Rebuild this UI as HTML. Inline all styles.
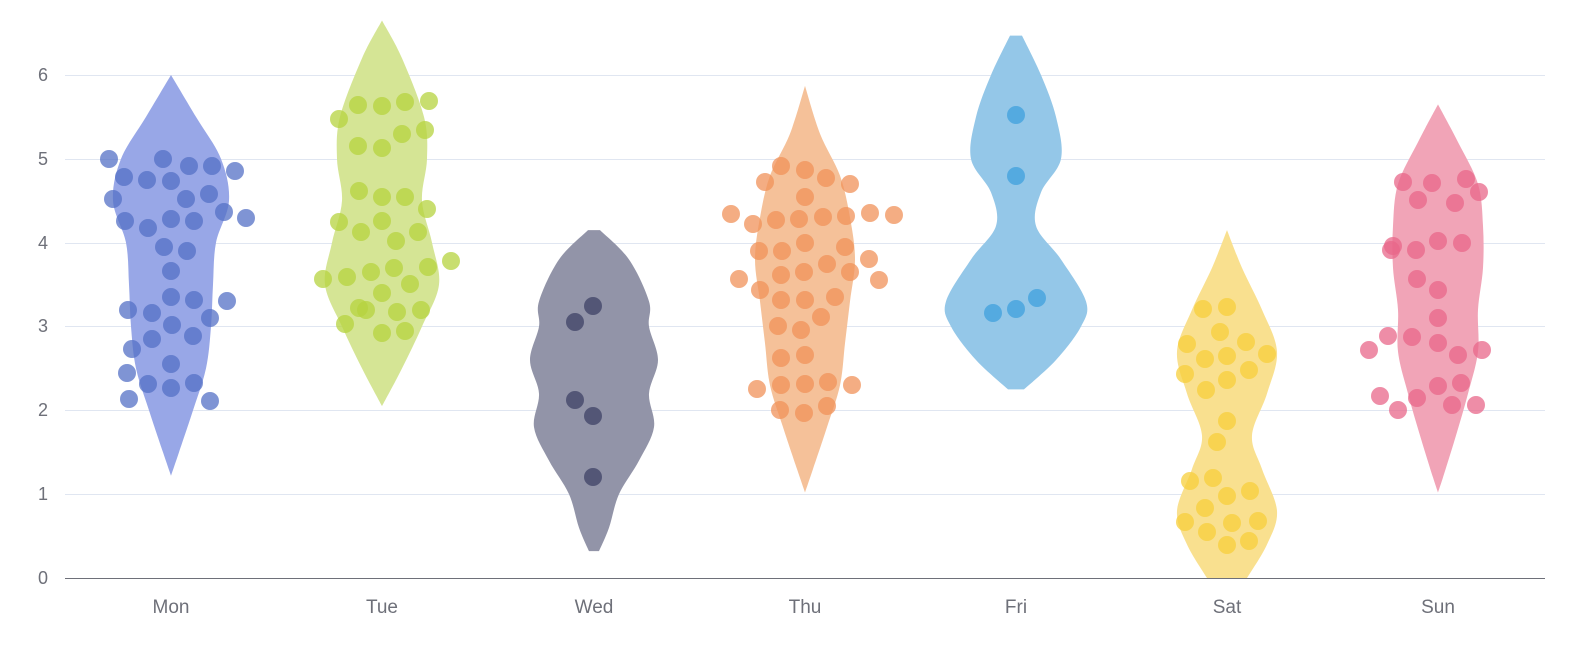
<!DOCTYPE html>
<html><head><meta charset="utf-8"><style>
html,body{margin:0;padding:0;background:#fff;}
svg{display:block;font-family:"Liberation Sans",sans-serif;}
</style></head><body>
<svg id="c" width="1590" height="658" xmlns="http://www.w3.org/2000/svg">
<g stroke="#e0e6f1" stroke-width="1">
<line x1="65" x2="1545" y1="494.5" y2="494.5"/><line x1="65" x2="1545" y1="410.5" y2="410.5"/>
<line x1="65" x2="1545" y1="326.5" y2="326.5"/><line x1="65" x2="1545" y1="243.5" y2="243.5"/>
<line x1="65" x2="1545" y1="159.5" y2="159.5"/><line x1="65" x2="1545" y1="75.5" y2="75.5"/>
</g>
<line x1="65" x2="1545" y1="578.5" y2="578.5" stroke="#6e7079" stroke-width="1"/>
<g fill="#6e7079" font-size="18" text-anchor="end">
<text x="48" y="584">0</text><text x="48" y="500">1</text><text x="48" y="416">2</text><text x="48" y="332">3</text><text x="48" y="249">4</text><text x="48" y="165">5</text><text x="48" y="81">6</text>
</g>
<g fill="#6e7079" font-size="19" text-anchor="middle">
<text x="171" y="613">Mon</text><text x="382" y="613">Tue</text><text x="594" y="613">Wed</text><text x="805" y="613">Thu</text><text x="1016" y="613">Fri</text><text x="1227" y="613">Sat</text><text x="1438" y="613">Sun</text>
</g>
<g id="v"></g><g id="d"></g>
</svg>
<script>
const Y=v=>578-v*83.83;
const S=[
{cx:171,c:"#5470c6",fc:"#98a7e7",w:[[6.0,0],[5.5,25],[5,50],[4.5,58],[4,45],[3.5,42],[3,40],[2.5,35],[2,22],[1.5,8],[1.22,0]],
d:[[109,159],[163,159],[124,177],[147,180],[171,181],[189,166],[212,166],[235,171],[113,199],[186,199],[209,194],[125,221],[148,228],[171,219],[194,221],[224,212],[246,218],[164,247],[187,251],[171,271],[128,310],[152,313],[171,297],[194,300],[227,301],[210,318],[172,325],[152,339],[193,336],[132,349],[171,364],[127,373],[148,384],[171,388],[194,383],[129,399],[210,401]]},
{cx:382,c:"#b5d33f",fc:"#d5e595",w:[[6.65,0],[6.2,20],[5.5,42],[5,45],[4.5,40],[4,50],[3.5,57],[3,40],[2.5,20],[2.05,0]],
d:[[339,119],[358,105],[382,106],[405,102],[429,101],[358,146],[382,148],[402,134],[425,130],[359,191],[382,197],[405,197],[427,209],[339,222],[361,232],[382,221],[396,241],[418,232],[323,279],[347,277],[371,272],[394,268],[428,267],[451,261],[359,308],[382,293],[410,284],[366,310],[421,310],[397,312],[345,324],[382,333],[405,331]]},
{cx:594,c:"#3e4266",fc:"#9294a8",w:[[4.15,6],[3.8,35],[3.3,55],[3.0,55],[2.6,64],[2.2,55],[1.8,60],[1.4,45],[1.0,25],[0.6,15],[0.32,5]],
d:[[575,322],[593,306],[575,400],[593,416],[593,477]]},
{cx:805,c:"#f0925a",fc:"#f5c199",w:[[5.87,0],[5.3,15],[4.8,35],[4.3,45],[3.8,50],[3.3,45],[2.8,40],[2.3,35],[1.8,22],[1.3,8],[1.02,0]],
d:[[781,166],[805,170],[826,178],[850,184],[765,182],[805,197],[731,214],[753,224],[776,220],[799,219],[823,217],[846,216],[870,213],[894,215],[759,251],[782,251],[805,243],[845,247],[869,259],[739,279],[760,290],[781,275],[804,272],[827,264],[850,272],[879,280],[781,300],[805,300],[835,297],[821,317],[778,326],[801,330],[781,358],[805,355],[757,389],[781,385],[805,384],[828,382],[852,385],[780,410],[804,413],[827,406]]},
{cx:1016,c:"#3fa0dd",fc:"#94c7e8",w:[[6.47,6],[6.0,25],[5.5,40],[5.0,45],[4.6,25],[4.2,20],[3.8,45],[3.3,70],[3.0,65],[2.6,40],[2.25,8]],
d:[[1016,115],[1016,176],[993,313],[1016,309],[1037,298]]},
{cx:1227,c:"#f7cf3b",fc:"#f9e08f",w:[[4.15,0],[3.7,15],[3.2,35],[2.7,50],[2.2,40],[1.7,25],[1.3,35],[0.8,50],[0.4,40],[0,20]],
d:[[1203,309],[1227,307],[1187,344],[1220,332],[1246,342],[1205,359],[1227,356],[1267,354],[1185,374],[1227,380],[1249,370],[1206,390],[1227,421],[1217,442],[1190,481],[1213,478],[1227,496],[1250,491],[1205,508],[1185,522],[1207,532],[1232,523],[1258,521],[1227,545],[1249,541]]},
{cx:1438,c:"#e8678a",fc:"#f1a4b7",w:[[5.65,0],[5.2,20],[4.7,40],[4.2,45],[3.7,45],[3.2,40],[2.7,40],[2.2,30],[1.7,18],[1.2,5],[1.02,0]],
d:[[1403,182],[1432,183],[1418,200],[1455,203],[1479,192],[1466,179],[1393,246],[1416,250],[1438,241],[1462,243],[1391,250],[1417,279],[1438,290],[1438,318],[1388,336],[1412,337],[1438,343],[1458,355],[1482,350],[1369,350],[1380,396],[1398,410],[1417,398],[1438,386],[1461,383],[1452,405],[1476,405]]}
];
function cr(p){let s="";for(let i=0;i<p.length-1;i++){const p0=p[i-1]||p[i],p1=p[i],p2=p[i+1],p3=p[i+2]||p2;
s+=` C${p1[0]+(p2[0]-p0[0])/6},${p1[1]+(p2[1]-p0[1])/6} ${p2[0]-(p3[0]-p1[0])/6},${p2[1]-(p3[1]-p1[1])/6} ${p2[0]},${p2[1]}`;}return s;}
let vh="",dh="";
for(const s of S){
 const R=s.w.map(([v,w])=>[s.cx+w,Y(v)]);
 const L=s.w.slice().reverse().map(([v,w])=>[s.cx-w,Y(v)]);
 vh+=`<path d="M${R[0][0]},${R[0][1]}${cr(R)} L${L[0][0]},${L[0][1]}${cr(L)} Z" fill="${s.fc}"/>`;
 for(const [x,y] of s.d) dh+=`<circle cx="${x}" cy="${y}" r="9" fill="${s.c}" fill-opacity="0.75"/>`;
}
document.getElementById("v").innerHTML=vh;document.getElementById("d").innerHTML=dh;
</script>
</body></html>
